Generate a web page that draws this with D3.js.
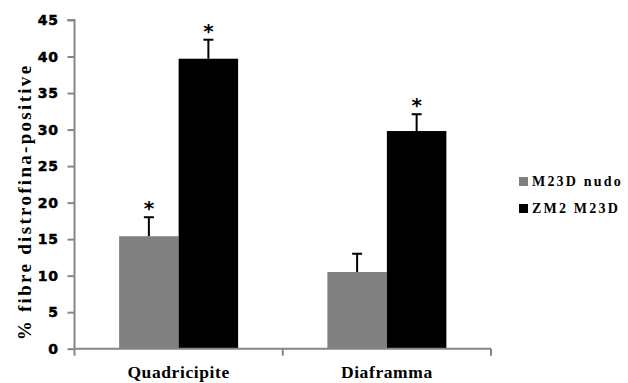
<!DOCTYPE html>
<html>
<head>
<meta charset="utf-8">
<script src="https://cdn.jsdelivr.net/npm/d3@7"></script>
<style>
  html, body { margin: 0; padding: 0; background: #fff; }
  svg { display: block; }
</style>
</head>
<body>
<svg id="chart" width="628" height="383"></svg>
<script>
// Percentage of dystrophin-positive fibres per muscle and treatment
const categories = ["Quadricipite", "Diaframma"];
const seriesNames = ["M23D nudo", "ZM2 M23D"];
const seriesColors = ["#808080", "#000000"];
const nudoValues = [15.4, 10.5];
const nudoErrors = [2.6, 2.5];
const zm2Values = [39.7, 29.8];
const zm2Errors = [2.6, 2.3];
const nudoSignif = [true, false];
const zm2Signif = [true, true];
const yTicks = [0, 5, 10, 15, 20, 25, 30, 35, 40, 45];
const yTitle = "% fibre distrofina-positive";

(function () {
  const series = [
    { name: seriesNames[0], color: seriesColors[0], values: nudoValues, errors: nudoErrors, signif: nudoSignif },
    { name: seriesNames[1], color: seriesColors[1], values: zm2Values, errors: zm2Errors, signif: zm2Signif }
  ];

  const svg = d3.select("#chart");
  const axisColor = "#868686";
  const plotLeft = 74.5, plotRight = 491, plotTop = 20, plotBottom = 348.7;

  const x = d3.scaleBand().domain(categories).range([plotLeft, plotRight]).paddingInner(0).paddingOuter(0);
  const xs = d3.scaleBand().domain(seriesNames).range([0, x.bandwidth()]).paddingInner(0).paddingOuter(0.75);
  const y = d3.scaleLinear().domain([0, 45]).range([plotBottom, plotTop]);

  // bars with error bars and significance marks
  const groups = svg.append("g").selectAll("g")
    .data(series).join("g");

  groups.each(function (s) {
    const g = d3.select(this);
    categories.forEach((c, i) => {
      const bx = x(c) + xs(s.name);
      const bw = xs.bandwidth();
      g.append("rect")
        .attr("x", bx).attr("y", y(s.values[i]))
        .attr("width", bw).attr("height", y(0) - y(s.values[i]))
        .attr("fill", s.color);
      const cx = bx + bw / 2;
      const errTop = y(s.values[i] + s.errors[i]);
      g.append("line")
        .attr("x1", cx).attr("x2", cx)
        .attr("y1", y(s.values[i])).attr("y2", errTop)
        .attr("stroke", "#000").attr("stroke-width", 2);
      g.append("line")
        .attr("x1", cx - 5).attr("x2", cx + 5)
        .attr("y1", errTop).attr("y2", errTop)
        .attr("stroke", "#000").attr("stroke-width", 2);
      if (s.signif[i]) {
        g.append("text")
          .attr("x", cx).attr("y", errTop - 2)
          .attr("text-anchor", "middle")
          .attr("font-family", "'DejaVu Sans', sans-serif")
          .attr("font-weight", "bold")
          .attr("font-size", 20)
          .attr("fill", "#000")
          .text("*");
      }
    });
  });

  // y axis
  const yAxis = svg.append("g")
    .attr("transform", `translate(${plotLeft},0)`)
    .call(d3.axisLeft(y).tickValues(yTicks).tickSize(7).tickPadding(9).tickFormat(d3.format("d")));
  yAxis.select(".domain").attr("stroke", axisColor).attr("stroke-width", 2).attr("d", `M-7,${plotTop}H0V${plotBottom}`);
  yAxis.selectAll(".tick line").attr("stroke", axisColor).attr("stroke-width", 2);
  yAxis.selectAll(".tick text")
    .attr("font-family", "'DejaVu Sans', sans-serif")
    .attr("font-weight", "bold")
    .attr("font-size", 14)
    .attr("letter-spacing", 0.6)
    .attr("stroke", "#000")
    .attr("stroke-width", 0.5)
    .attr("fill", "#000");

  // x axis
  const xAxis = svg.append("g")
    .attr("transform", `translate(0,${plotBottom})`)
    .call(d3.axisBottom(x).tickSize(0).tickFormat(""));
  xAxis.select(".domain").attr("stroke", axisColor).attr("stroke-width", 2).attr("d", `M${plotLeft},0H${plotRight}`);
  xAxis.selectAll(".tick").remove();
  const boundaries = [plotLeft, x(categories[1]), plotRight];
  xAxis.selectAll("line.sep").data(boundaries).join("line")
    .attr("class", "sep")
    .attr("x1", d => d).attr("x2", d => d)
    .attr("y1", 0).attr("y2", 7)
    .attr("stroke", axisColor).attr("stroke-width", 2);

  // category labels
  svg.append("g").selectAll("text")
    .data(categories).join("text")
    .attr("x", d => x(d) + x.bandwidth() / 2)
    .attr("y", 378)
    .attr("text-anchor", "middle")
    .attr("font-family", "'Liberation Serif', serif")
    .attr("font-weight", "bold")
    .attr("font-size", 17.5)
    .attr("letter-spacing", 0.6)
    .attr("fill", "#000")
    .text(d => d);

  // y title
  svg.append("text")
    .attr("transform", `translate(31,202) rotate(-90)`)
    .attr("text-anchor", "middle")
    .attr("font-family", "'Liberation Serif', serif")
    .attr("font-weight", "bold")
    .attr("font-size", 19)
    .attr("letter-spacing", 2.3)
    .attr("fill", "#000")
    .text(yTitle);

  // legend
  const legend = svg.append("g").selectAll("g")
    .data(series).join("g")
    .attr("transform", (d, i) => `translate(519,${177 + i * 27})`);
  legend.append("rect")
    .attr("width", 9).attr("height", 9)
    .attr("fill", d => d.color);
  legend.append("text")
    .attr("x", 13).attr("y", 9)
    .attr("font-family", "'Liberation Serif', serif")
    .attr("font-weight", "bold")
    .attr("font-size", 14)
    .attr("letter-spacing", 2.2)
    .attr("fill", "#000")
    .text(d => d.name);
})();
</script>
</body>
</html>
